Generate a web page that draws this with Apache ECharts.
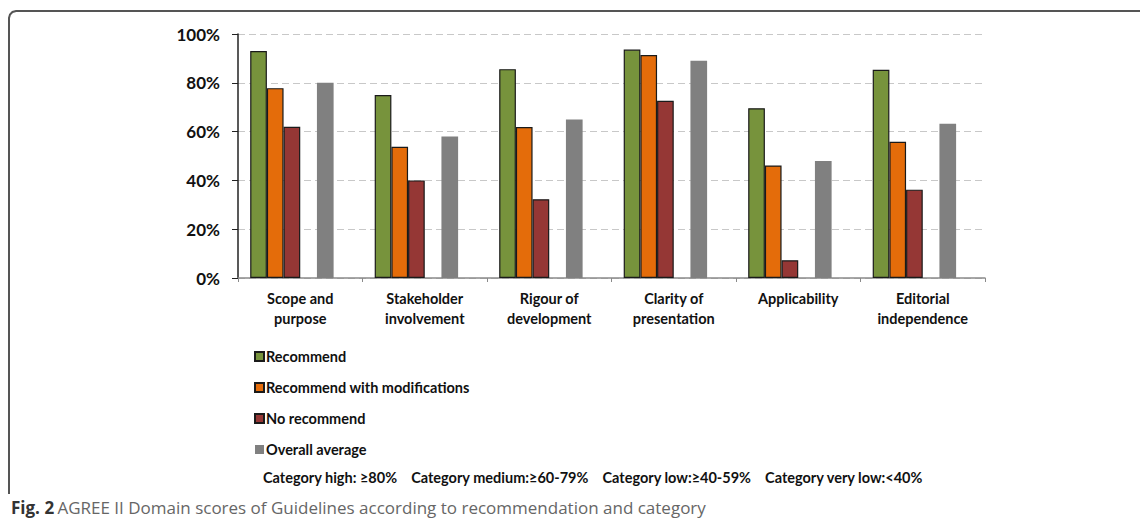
<!DOCTYPE html>
<html><head><meta charset="utf-8">
<script src="https://cdn.jsdelivr.net/npm/echarts@6/dist/echarts.min.js"></script>
<style>html,body{margin:0;padding:0;background:#fff;}#c{width:1140px;height:522px;}</style>
</head><body><div id="c"></div>
<script>
const categories = ['Scope and\npurpose','Stakeholder\ninvolvement','Rigour of\ndevelopment','Clarity of\npresentation','Applicability','Editorial\nindependence'];
const recommend = [93, 75, 85.6, 93.6, 69.6, 85.3];
const recommendMod = [77.8, 53.8, 61.9, 91.4, 46.1, 55.8];
const noRecommend = [62, 40, 32.3, 72.6, 7.3, 36.2];
const overallAvg = [80, 58, 65, 89, 48, 63.2];
const yTicks = [0, 20, 40, 60, 80, 100];
const seriesNames = ['Recommend','Recommend with modifications','No recommend','Overall average'];
const noteText = 'Category high: \u226580%    Category medium:\u226560-79%    Category low:\u226540-59%    Category very low:<40%';

const chart = echarts.init(document.getElementById('c'), null, {renderer:'svg'});
const FONT = 'Lato';
const barBorder = {borderColor:'#1a1a1a', borderWidth:1.2};
chart.setOption({
  animation:false,
  textStyle:{fontFamily:FONT},
  grid:{left:238, right:155, top:34, bottom:244},
  legend:{
    data:seriesNames, orient:'vertical', left:249, top:344,
    itemWidth:9, itemHeight:9, itemGap:16, icon:'rect',
    textStyle:{fontFamily:FONT, fontWeight:'bold', fontSize:14.5, color:'#111', padding:[0,0,0,-3]}
  },
  xAxis:{
    type:'category', data:categories,
    axisLine:{lineStyle:{color:'#8a8a8a', width:1.5}},
    axisTick:{show:true, length:4, lineStyle:{color:'#8a8a8a'}},
    axisLabel:{fontFamily:FONT, fontWeight:'bold', fontSize:14.5, color:'#111', lineHeight:20, margin:10}
  },
  yAxis:{
    type:'value', min:0, max:100, interval:20,
    axisLine:{show:true, lineStyle:{color:'#222', width:1.5}},
    axisTick:{show:true, length:6, lineStyle:{color:'#222'}},
    axisLabel:{fontFamily:FONT, fontWeight:'bold', fontSize:17, color:'#111', margin:18,
      formatter:v=> yTicks.includes(v) ? v+'%' : ''},
    splitLine:{lineStyle:{color:'#c8c8c8', type:[7,4], width:1}}
  },
  series:[
    {name:seriesNames[0], type:'bar', data:recommend, barGap:'0%', barCategoryGap:'19.6%', itemStyle:Object.assign({color:'#77933C'},barBorder)},
    {name:seriesNames[1], type:'bar', data:recommendMod, itemStyle:Object.assign({color:'#E46C0A'},barBorder)},
    {name:seriesNames[2], type:'bar', data:noRecommend, itemStyle:Object.assign({color:'#953735'},barBorder)},
    {name:'', type:'bar', data:[]},
    {name:seriesNames[3], type:'bar', data:overallAvg, itemStyle:{color:'#808080'}},
    {name:' ', type:'bar', data:[]}
  ],
  graphic:[
    {type:'polyline', shape:{points:[[9,494],[9,18],[10,14.5],[12.5,12],[16,11],[1150,11]]}, style:{fill:null, stroke:'#555', lineWidth:2}, z:-10},
    {type:'text', left:263, top:470, style:{text:noteText, font:'bold 14.5px Lato', fill:'#111'}},
    {type:'text', left:11, top:499, style:{
      text:'{b|Fig. 2} {n|AGREE II Domain scores of Guidelines according to recommendation and category}',
      rich:{b:{font:'bold 17px "Open Sans"', fill:'#333'}, n:{font:'17px "Open Sans"', fill:'#666'}}
    }}
  ]
});
</script></body></html>
